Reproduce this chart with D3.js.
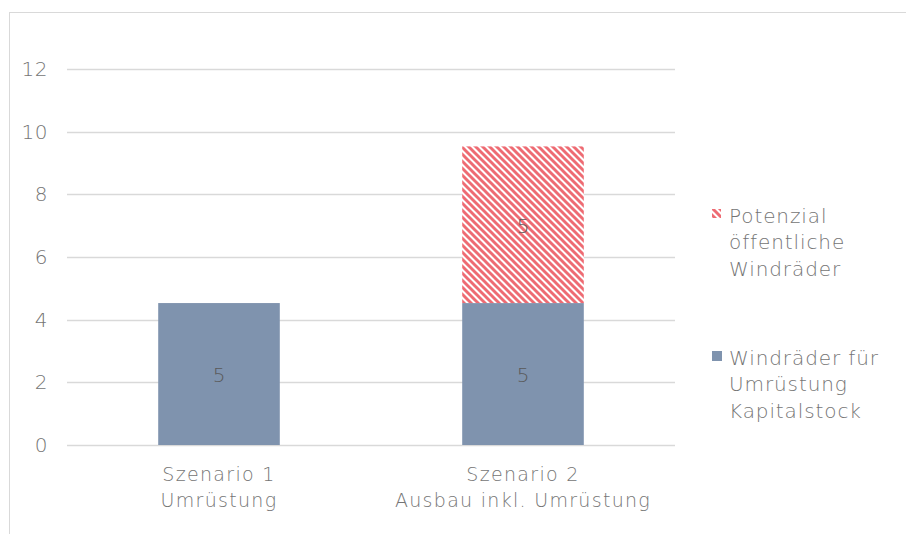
<!DOCTYPE html>
<html>
<head>
<meta charset="utf-8">
<script src="https://cdn.jsdelivr.net/npm/d3@7"></script>
<style>
  body { margin: 0; background: #fff; }
  text { font-family: "DejaVu Sans", sans-serif; font-weight: 200; fill: #757575; }
</style>
</head>
<body>
<script>
// chart data
var categories = [["Szenario 1", "Umrüstung"], ["Szenario 2", "Ausbau inkl. Umrüstung"]];
var kapitalstock = [4.53, 4.53];
var potenzial = [0, 5.0];
var yTicks = [0, 2, 4, 6, 8, 10, 12];
var seriesNames = [["Potenzial", "öffentliche", "Windräder"], ["Windräder für", "Umrüstung", "Kapitalstock"]];

var width = 906, height = 534;
var blue = "#7f93ae", red = "#ee6b73";

var svg = d3.select("body").append("svg")
    .attr("width", width)
    .attr("height", height);

// hatch for the "Potenzial" series
var defs = svg.append("defs");
var pat = defs.append("pattern")
    .attr("id", "hatch")
    .attr("patternUnits", "userSpaceOnUse")
    .attr("width", 7)
    .attr("height", 7);
pat.append("rect").attr("width", 7).attr("height", 7).attr("fill", "#fff");
pat.append("path")
    .attr("d", "M-2,-2 L9,9 M-2,5 L2,9 M5,-2 L9,2")
    .attr("stroke", red)
    .attr("stroke-width", 2.9);

// chart frame (runs off the page to the right and bottom)
svg.append("rect")
    .attr("x", 9.5).attr("y", 12.5)
    .attr("width", 920).attr("height", 540)
    .attr("fill", "none")
    .attr("stroke", "#d9d9d9");

var x = d3.scaleBand()
    .domain(d3.range(categories.length))
    .range([67, 675])
    .paddingInner(0.6)
    .paddingOuter(0.3);

var y = d3.scaleLinear().domain([0, 12]).range([445, 69]);

// grid lines
svg.append("g").selectAll("line")
    .data(yTicks)
    .enter().append("line")
    .attr("x1", 67).attr("x2", 675)
    .attr("y1", function(d) { return Math.round(y(d)) + 0.5; })
    .attr("y2", function(d) { return Math.round(y(d)) + 0.5; })
    .attr("stroke", "#d9d9d9")
    .attr("stroke-width", 1.5);

// y tick labels
svg.append("g").selectAll("text")
    .data(yTicks)
    .enter().append("text")
    .attr("x", 48)
    .attr("y", function(d) { return y(d) + 7; })
    .attr("text-anchor", "end")
    .style("font-size", "20px")
    .style("letter-spacing", "0.5px")
    .text(function(d) { return d; });

var fmt = d3.format(".0f");

// bottom series
var g = svg.append("g");
g.selectAll("rect.kap")
    .data(kapitalstock)
    .enter().append("rect")
    .attr("class", "kap")
    .attr("x", function(d, i) { return x(i); })
    .attr("width", x.bandwidth())
    .attr("y", function(d) { return y(d); })
    .attr("height", function(d) { return y(0) - y(d); })
    .attr("fill", blue);

// top series, stacked
g.selectAll("rect.pot")
    .data(potenzial)
    .enter().append("rect")
    .attr("class", "pot")
    .attr("x", function(d, i) { return x(i); })
    .attr("width", x.bandwidth())
    .attr("y", function(d, i) { return y(kapitalstock[i] + d); })
    .attr("height", function(d) { return y(0) - y(d); })
    .attr("fill", "url(#hatch)");

// value labels
g.selectAll("text.kapl")
    .data(kapitalstock)
    .enter().append("text")
    .attr("x", function(d, i) { return x(i) + x.bandwidth() / 2; })
    .attr("y", function(d) { return y(d / 2) + 8; })
    .attr("text-anchor", "middle")
    .style("font-size", "20px")
    .style("fill", "#595959")
    .text(function(d) { return fmt(d); });

g.selectAll("text.potl")
    .data(potenzial.map(function(d, i) { return {v: d, i: i}; }).filter(function(d) { return d.v > 0; }))
    .enter().append("text")
    .attr("x", function(d) { return x(d.i) + x.bandwidth() / 2; })
    .attr("y", function(d) { return y(kapitalstock[d.i] + d.v / 2) + 8; })
    .attr("text-anchor", "middle")
    .style("font-size", "20px")
    .style("fill", "#595959")
    .text(function(d) { return fmt(d.v); });

// category labels
var cat = svg.append("g").selectAll("text")
    .data(categories)
    .enter().append("text")
    .attr("text-anchor", "middle")
    .style("font-size", "19px")
    .style("letter-spacing", "1.3px");
cat.selectAll("tspan")
    .data(function(d, i) { return d.map(function(s) { return {s: s, i: i}; }); })
    .enter().append("tspan")
    .attr("x", function(d) { return x(d.i) + x.bandwidth() / 2; })
    .attr("y", function(d, j) { return 481 + j * 26; })
    .text(function(d) { return d.s; });

// legend
var legendY = [214, 356];
var legendFill = ["url(#hatch)", blue];
var leg = svg.append("g").selectAll("g")
    .data(seriesNames)
    .enter().append("g");
leg.append("rect")
    .attr("x", 712)
    .attr("y", function(d, i) { return legendY[i] - 5; })
    .attr("width", function(d, i) { return i === 0 ? 9 : 10; })
    .attr("height", function(d, i) { return i === 0 ? 9 : 10; })
    .attr("fill", function(d, i) { return legendFill[i]; });
leg.append("text")
    .style("font-size", "20px")
    .style("letter-spacing", "0.9px")
    .selectAll("tspan")
    .data(function(d, i) { return d.map(function(s) { return {s: s, i: i}; }); })
    .enter().append("tspan")
    .attr("x", 729)
    .attr("y", function(d, j) { return legendY[d.i] + 9 + j * 26.3; })
    .text(function(d) { return d.s; });
</script>
</body>
</html>
